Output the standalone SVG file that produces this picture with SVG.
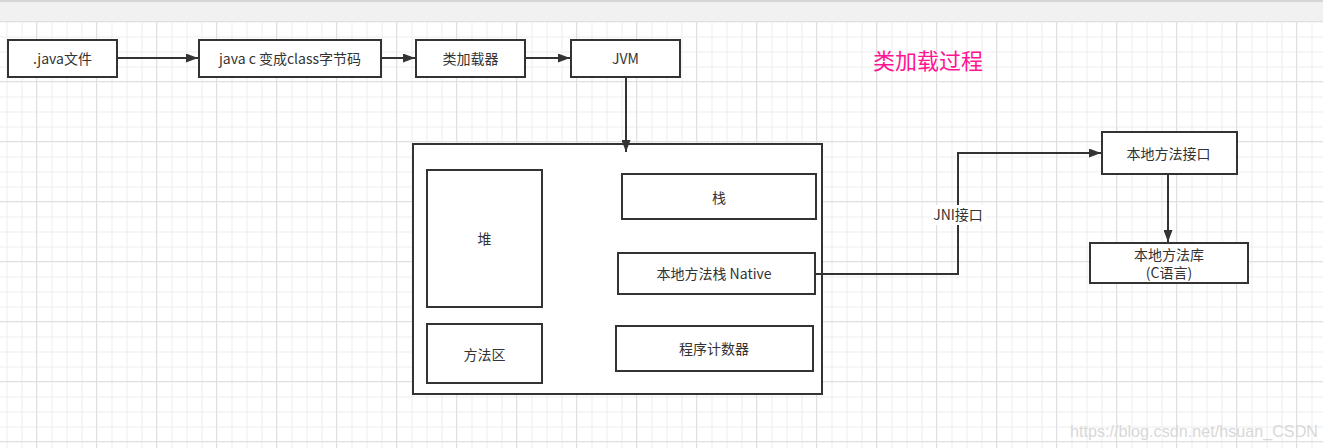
<svg xmlns="http://www.w3.org/2000/svg" width="1323" height="448" viewBox="0 0 1323 448">
<defs>
<pattern id="minor" x="6.5" y="6.5" width="15" height="15" patternUnits="userSpaceOnUse">
<path d="M0 0.5H15M0.5 0V15" fill="none" stroke="#ececec" stroke-width="1"/>
</pattern>
<pattern id="major" x="36" y="21" width="60" height="60" patternUnits="userSpaceOnUse">
<path d="M0 0.5H60M0.5 0V60" fill="none" stroke="#e0e0e0" stroke-width="1"/>
</pattern>
<marker id="arr" viewBox="0 0 12 9" refX="12" refY="4.5" markerWidth="12" markerHeight="9" markerUnits="userSpaceOnUse" orient="auto">
<path d="M0 0L12 4.5L0 9Z" fill="#333"/>
</marker>
</defs>
<style>
.box{fill:#fff;stroke:#333;stroke-width:2}
.t{font-family:"Noto Sans CJK SC","Noto Sans",sans-serif;font-size:14px;fill:#333;text-anchor:middle;dominant-baseline:central}
.c{fill:none;stroke:#333;stroke-width:2}
</style>
<rect width="1323" height="448" fill="#fff"/>
<rect width="1323" height="448" fill="url(#minor)"/>
<rect width="1323" height="448" fill="url(#major)"/>
<rect x="0" y="0" width="1323" height="21" fill="#f1f1f1"/>
<rect x="0" y="0" width="1323" height="2" fill="#d6d6d6"/>
<line x1="0" y1="21.5" x2="1323" y2="21.5" stroke="#e0e0e0"/>

<text x="928" y="59" font-family="&quot;Noto Sans CJK SC&quot;,sans-serif" font-size="22" fill="#ff1493" text-anchor="middle" dominant-baseline="central">类加载过程</text>

<g id="n-java"><rect class="box" x="8" y="40" width="109" height="37"/><text class="t" x="62.5" y="58">.java文件</text></g>
<g id="n-javac"><rect class="box" x="199" y="40" width="182" height="37"/><text class="t" x="290" y="58">java c 变成class字节码</text></g>
<g id="n-loader"><rect class="box" x="416" y="40" width="109" height="37"/><text class="t" x="470.5" y="58">类加载器</text></g>
<g id="n-jvm"><rect class="box" x="571" y="40" width="109" height="37"/><text class="t" x="625.5" y="58">JVM</text></g>

<g id="n-runtime"><rect class="box" x="413" y="144" width="409" height="250"/></g>
<g id="n-heap"><rect class="box" x="427" y="170" width="115" height="137"/><text class="t" x="484.5" y="238">堆</text></g>
<g id="n-method"><rect class="box" x="427" y="324" width="115" height="59"/><text class="t" x="484.5" y="354" font-size="13">方法区</text></g>
<g id="n-stack"><rect class="box" x="622" y="174" width="194" height="45"/><text class="t" x="719" y="197">栈</text></g>
<g id="n-native"><rect class="box" x="618" y="253" width="197" height="41"/><text class="t" x="714" y="273">本地方法栈 Native</text></g>
<g id="n-pc"><rect class="box" x="616" y="326" width="197" height="45"/><text class="t" x="714" y="348" font-size="15">程序计数器</text></g>

<g id="n-nif"><rect class="box" x="1102" y="132" width="135" height="42"/><text class="t" x="1168.5" y="153" font-size="13">本地方法接口</text></g>
<g id="n-nlib"><rect class="box" x="1090" y="243" width="158" height="40"/><text class="t" x="1169" y="254">本地方法库</text><text class="t" x="1169" y="272">(C语言)</text></g>

<g id="connectors">
<path class="c" d="M117 58H198" marker-end="url(#arr)"/>
<path class="c" d="M381 58H415" marker-end="url(#arr)"/>
<path class="c" d="M525 58H570" marker-end="url(#arr)"/>
<path class="c" d="M626 77V152" marker-end="url(#arr)"/>
<path class="c" d="M816 274H958V153H1101" marker-end="url(#arr)"/>
<path class="c" d="M1168 174V242" marker-end="url(#arr)"/>
<rect x="931" y="205" width="54" height="20" fill="#fff"/>
<text class="t" x="958" y="214">JNI接口</text>
</g>

<text x="1194" y="431" font-family="&quot;Liberation Sans&quot;,sans-serif" font-size="16" fill="#d8d8d8" text-anchor="middle" dominant-baseline="central" textLength="248" lengthAdjust="spacingAndGlyphs">https://blog.csdn.net/hsuan_CSDN</text>
</svg>
